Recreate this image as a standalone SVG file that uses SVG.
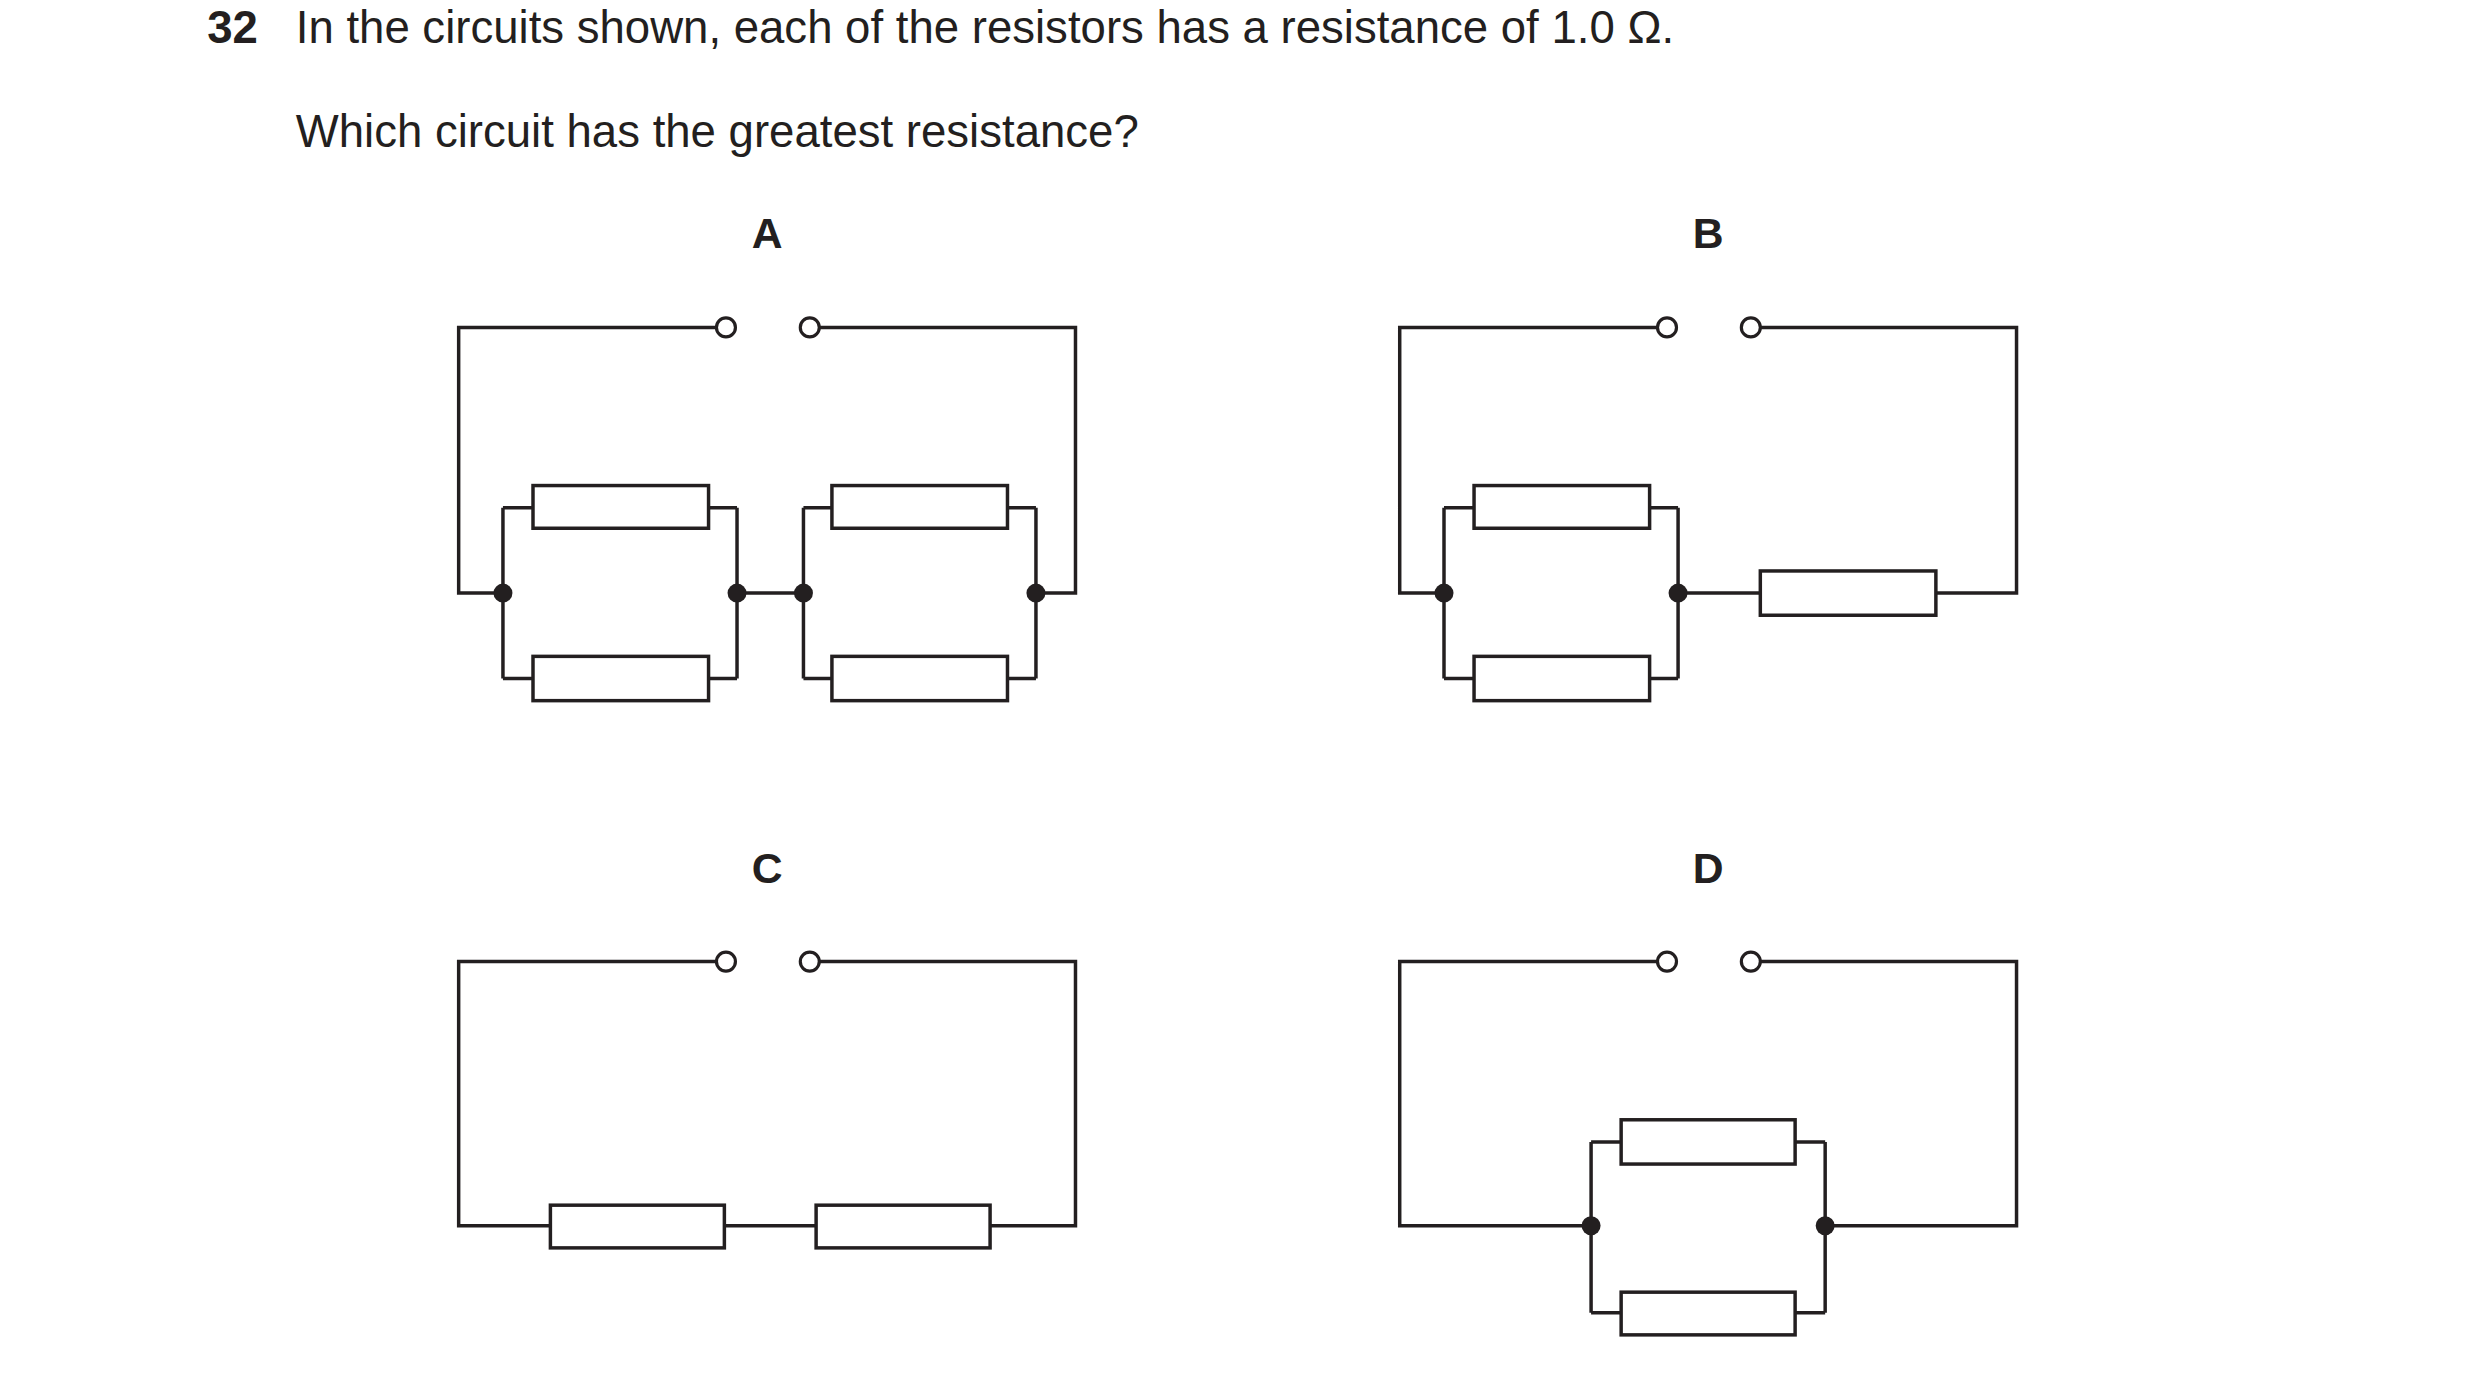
<svg xmlns="http://www.w3.org/2000/svg" width="2480" height="1378" viewBox="0 0 2480 1378">
<style>
.w{fill:none;stroke:#231f20;stroke-width:2.2}
.r{fill:#fff;stroke:#231f20;stroke-width:2.2}
.t{fill:#fff;stroke:#231f20;stroke-width:2}
.n{fill:#231f20}
.tx{font-family:"Liberation Sans",Arial,sans-serif;font-size:28.8px;fill:#231f20}
.lb{font-family:"Liberation Sans",Arial,sans-serif;font-size:27px;font-weight:bold;fill:#231f20;text-anchor:middle}
</style>
<rect width="2480" height="1378" fill="#fff"/>
<g transform="scale(1.5816)">
<text class="tx" x="131" y="27" font-weight="bold">32</text>
<text class="tx" x="187" y="27">In the circuits shown, each of the resistors has a resistance of 1.0 Ω.</text>
<text class="tx" x="187" y="93">Which circuit has the greatest resistance?</text>
<text class="lb" x="485" y="157">A</text>
<text class="lb" x="1080" y="157">B</text>
<text class="lb" x="485" y="558">C</text>
<text class="lb" x="1080" y="558">D</text>
<g id="connectors">
<path class="w" d="M453,207H290V375H318M518,207H680V375H655M466,375H508M318,321V429M466,321V429M318,321H337M448,321H466M318,429H337M448,429H466M508,321V429M655,321V429M508,321H526M637,321H655M508,429H526M637,429H655"/>
<path class="w" d="M1048,207H885V375H913M1113,207H1275V375H1224M1061,375H1113M913,321V429M1061,321V429M913,321H932M1043,321H1061M913,429H932M1043,429H1061"/>
<path class="w" d="M453,608H290V775H348M458,775H516M626,775H680V608H518"/>
<path class="w" d="M1048,608H885V775H1006M1154,775H1275V608H1113M1006,722V830M1154,722V830M1006,722H1025M1135,722H1154M1006,830H1025M1135,830H1154"/>
</g>
<g id="circuitA">
<circle class="t" cx="459" cy="207" r="6"/><circle class="t" cx="512" cy="207" r="6"/>
<rect class="r" x="337" y="307" width="111" height="27"/><rect class="r" x="337" y="415" width="111" height="28"/>
<rect class="r" x="526" y="307" width="111" height="27"/><rect class="r" x="526" y="415" width="111" height="28"/>
<circle class="n" cx="318" cy="375" r="6"/><circle class="n" cx="466" cy="375" r="6"/><circle class="n" cx="508" cy="375" r="6"/><circle class="n" cx="655" cy="375" r="6"/>
</g>
<g id="circuitB">
<circle class="t" cx="1054" cy="207" r="6"/><circle class="t" cx="1107" cy="207" r="6"/>
<rect class="r" x="932" y="307" width="111" height="27"/><rect class="r" x="932" y="415" width="111" height="28"/>
<rect class="r" x="1113" y="361" width="111" height="28"/>
<circle class="n" cx="913" cy="375" r="6"/><circle class="n" cx="1061" cy="375" r="6"/>
</g>
<g id="circuitC">
<circle class="t" cx="459" cy="608" r="6"/><circle class="t" cx="512" cy="608" r="6"/>
<rect class="r" x="348" y="762" width="110" height="27"/><rect class="r" x="516" y="762" width="110" height="27"/>
</g>
<g id="circuitD">
<circle class="t" cx="1054" cy="608" r="6"/><circle class="t" cx="1107" cy="608" r="6"/>
<rect class="r" x="1025" y="708" width="110" height="28"/><rect class="r" x="1025" y="817" width="110" height="27"/>
<circle class="n" cx="1006" cy="775" r="6"/><circle class="n" cx="1154" cy="775" r="6"/>
</g>
</g>
</svg>
